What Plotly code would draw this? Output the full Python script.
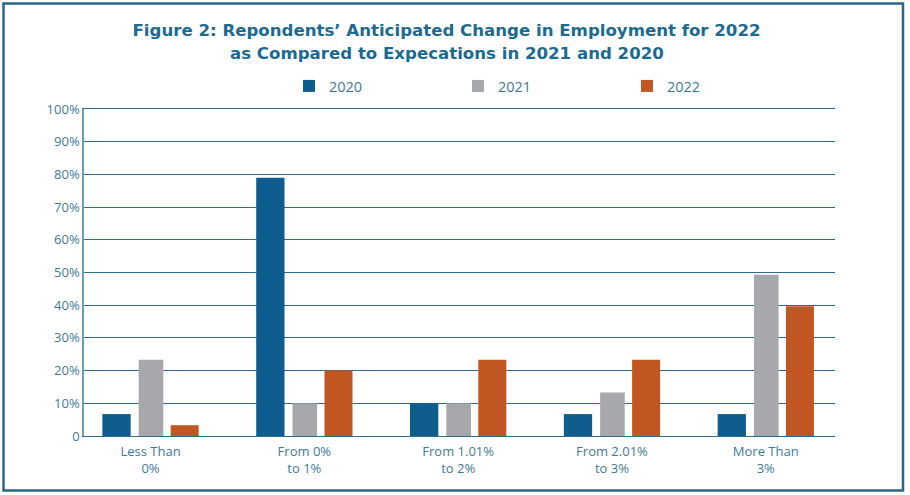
import plotly.graph_objects as go

categories = ["Less Than<br>0%", "From 0%<br>to 1%", "From 1.01%<br>to 2%", "From 2.01%<br>to 3%", "More Than<br>3%"]
series_names = ["2020", "2021", "2022"]
values_2020 = [6.7, 79.0, 10.0, 6.7, 6.7]
values_2021 = [23.3, 10.0, 10.0, 13.3, 49.3]
values_2022 = [3.3, 20.0, 23.3, 23.3, 39.7]
y_tick_vals = [0, 10, 20, 30, 40, 50, 60, 70, 80, 90, 100]
y_tick_text = ["0", "10%", "20%", "30%", "40%", "50%", "60%", "70%", "80%", "90%", "100%"]
title_lines = ["Figure 2: Repondents’ Anticipated Change in Employment for 2022",
               "as Compared to Expecations in 2021 and 2020"]

colors = ["#0f5d8f", "#a7a8ab", "#c25623"]
widths = [0.184, 0.16, 0.182]
offsets = [-0.313, -0.077, 0.131]

W, H = 910, 495
ML, MR, MT, MB = 84, 75, 109, 59
PW = W - ML - MR
PH = H - MT - MB

fig = go.Figure()
for name, vals, c, w, o in zip(series_names, [values_2020, values_2021, values_2022], colors, widths, offsets):
    fig.add_trace(go.Bar(
        x=categories, y=vals, name=name,
        marker=dict(color=c, line=dict(width=0)),
        width=w, offset=o,
    ))

def px_to_paper_x(px):
    return (px - ML) / PW

def px_to_paper_y(py):
    return (H - MB - py) / PH

tick_color = "#3f7a98"
grid_color = "#2f6d8c"
title_color = "#1d6a90"
title_font = dict(family="DejaVu Sans", size=16.6, color=title_color, weight="bold")

fig.update_layout(
    width=W, height=H,
    margin=dict(l=ML, r=MR, t=MT, b=MB),
    barmode="overlay",
    paper_bgcolor="white",
    plot_bgcolor="white",
    title=dict(
        text=title_lines[0],
        x=446.5 / W, xref="container", xanchor="center",
        y=1 - 30 / H, yref="container", yanchor="middle",
        font=title_font,
    ),
    annotations=[
        dict(text=title_lines[1], xref="paper", yref="paper",
             x=px_to_paper_x(446.5), y=px_to_paper_y(53),
             xanchor="center", yanchor="middle", showarrow=False,
             font=title_font),
    ],
    legend=dict(
        orientation="h",
        x=px_to_paper_x(289), xanchor="left",
        y=px_to_paper_y(86), yanchor="middle",
        entrywidth=124, entrywidthmode="pixels",
        font=dict(family="Open Sans", size=14.5, color=tick_color),
        bgcolor="rgba(0,0,0,0)",
    ),
    showlegend=True,
    xaxis=dict(
        type="category",
        range=[-0.4325, 4.45],
        showgrid=False,
        showline=True, linecolor=grid_color, linewidth=1, mirror=True,
        ticks="",
        ticklabelstandoff=3,
        tickfont=dict(family="Open Sans", size=13, color=tick_color),
    ),
    yaxis=dict(
        range=[0, 100],
        tickvals=y_tick_vals, ticktext=y_tick_text,
        showgrid=True, gridcolor=grid_color, gridwidth=1,
        showline=True, linecolor="#6f9db5", linewidth=1.5, mirror=False,
        zeroline=False,
        ticks="", ticklen=0,
        tickfont=dict(family="Open Sans", size=13, color=tick_color),
    ),
    font=dict(family="Open Sans"),
    shapes=[
        dict(type="rect", xref="paper", yref="paper",
             x0=px_to_paper_x(3.5), x1=px_to_paper_x(903),
             y0=px_to_paper_y(490.5), y1=px_to_paper_y(3.5),
             line=dict(color="#2b6787", width=2.5), fillcolor="rgba(0,0,0,0)", layer="below"),
    ],
)

fig.write_html("out.html", config={"displayModeBar": False},
               post_script="document.body.style.margin='0px';")
